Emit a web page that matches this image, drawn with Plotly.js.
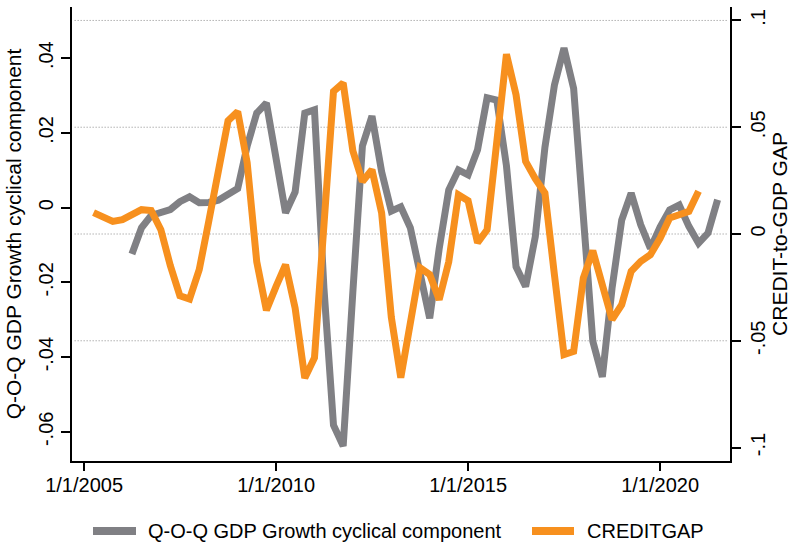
<!DOCTYPE html>
<html>
<head>
<meta charset="utf-8">
<script src="https://cdn.plot.ly/plotly-3.0.1.min.js"></script>
<style>html,body{margin:0;padding:0;background:#fff;}#chart{width:791px;height:542px;}</style>
</head>
<body>
<div id="chart"></div>
<script>
// Quarterly dates, 2005Q2 .. 2021Q3
var quarterDates = [
  "2005-04-01","2005-07-01","2005-10-01",
  "2006-01-01","2006-04-01","2006-07-01","2006-10-01",
  "2007-01-01","2007-04-01","2007-07-01","2007-10-01",
  "2008-01-01","2008-04-01","2008-07-01","2008-10-01",
  "2009-01-01","2009-04-01","2009-07-01","2009-10-01",
  "2010-01-01","2010-04-01","2010-07-01","2010-10-01",
  "2011-01-01","2011-04-01","2011-07-01","2011-10-01",
  "2012-01-01","2012-04-01","2012-07-01","2012-10-01",
  "2013-01-01","2013-04-01","2013-07-01","2013-10-01",
  "2014-01-01","2014-04-01","2014-07-01","2014-10-01",
  "2015-01-01","2015-04-01","2015-07-01","2015-10-01",
  "2016-01-01","2016-04-01","2016-07-01","2016-10-01",
  "2017-01-01","2017-04-01","2017-07-01","2017-10-01",
  "2018-01-01","2018-04-01","2018-07-01","2018-10-01",
  "2019-01-01","2019-04-01","2019-07-01","2019-10-01",
  "2020-01-01","2020-04-01","2020-07-01","2020-10-01",
  "2021-01-01","2021-04-01","2021-07-01"
];

// CREDITGAP (right axis), 2005Q2 .. 2021Q1
var creditGapDates = quarterDates.slice(0, 64);
var creditGap = [
  0.0100, 0.0078, 0.0059,
  0.0067, 0.0090, 0.0114, 0.0110,
  0.0020, -0.0148, -0.0289, -0.0305,
  -0.0167, 0.0060, 0.0310, 0.0530,
  0.0573, 0.0334, -0.0130, -0.0357,
  -0.0245, -0.0144, -0.0347, -0.0674,
  -0.0580, 0.0095, 0.0668, 0.0707,
  0.0390, 0.0246, 0.0301, 0.0098,
  -0.0390, -0.0673, -0.0415, -0.0158,
  -0.0190, -0.0308, -0.0130, 0.0184,
  0.0156, -0.0041, 0.0020, 0.0414,
  0.0842, 0.0652, 0.0340, 0.0259,
  0.0192, -0.0190, -0.0565, -0.0550,
  -0.0206, -0.0078, -0.0237, -0.0401,
  -0.0331, -0.0175, -0.0128, -0.0097,
  -0.0020, 0.0075, 0.0090, 0.0106,
  0.0200
];

// Q-O-Q GDP growth cyclical component (left axis), 2006Q2 .. 2021Q3
var gdpDates = quarterDates.slice(4, 66);
var gdpCycle = [
  -0.0124, -0.0054, -0.0021,
  -0.0011, -0.0005, 0.0016, 0.0029,
  0.0013, 0.0014, 0.0020, 0.0034,
  0.0051, 0.0165, 0.0253, 0.0280,
  0.0117, -0.0014, 0.0042, 0.0253,
  0.0262, -0.0215, -0.0582, -0.0638,
  -0.0226, 0.0165, 0.0245, 0.0096,
  -0.0009, 0.0002, -0.0054, -0.0167,
  -0.0296, -0.0110, 0.0047, 0.0101,
  0.0088, 0.0155, 0.0294, 0.0288,
  0.0112, -0.0158, -0.0211, -0.0078,
  0.0162, 0.0328, 0.0427, 0.0319,
  -0.0014, -0.0357, -0.0453, -0.0216,
  -0.0033, 0.0039, -0.0046, -0.0109,
  -0.0052, -0.0006, 0.0007, -0.0050,
  -0.0095, -0.0068, 0.0021
];

var xTickVals = ["2005-01-01", "2010-01-01", "2015-01-01", "2020-01-01"];
var xTickText = ["1/1/2005", "1/1/2010", "1/1/2015", "1/1/2020"];
var yTickVals = [-0.06, -0.04, -0.02, 0, 0.02, 0.04];
var yTickText = ["-.06", "-.04", "-.02", "0", ".02", ".04"];
var y2TickVals = [-0.1, -0.05, 0, 0.05, 0.1];
var y2TickText = ["-.1", "-.05", "0", ".05", ".1"];
var gridVals = [-0.05, 0, 0.05, 0.1];

var seriesNames = ["Q-O-Q GDP Growth cyclical component", "CREDITGAP"];
var seriesColors = ["#808084", "#f7901e"];

var FONT = "Liberation Sans, Arial, Helvetica, sans-serif";

var traces = [
  {
    x: gdpDates, y: gdpCycle, type: "scatter", mode: "lines",
    name: seriesNames[0], yaxis: "y",
    line: {color: seriesColors[0], width: 7, shape: "linear"},
    showlegend: false, hoverinfo: "x+y"
  },
  {
    x: creditGapDates, y: creditGap, type: "scatter", mode: "lines",
    name: seriesNames[1], yaxis: "y2",
    line: {color: seriesColors[1], width: 7, shape: "linear"},
    showlegend: false, hoverinfo: "x+y"
  }
];

var shapes = gridVals.map(function (v) {
  return {type: "line", xref: "paper", yref: "y2", x0: 0.004, x1: 0.996, y0: v, y1: v,
          line: {color: "#8c8c8c", width: 1, dash: "1px,2px"}, layer: "below"};
});

// manual legend
var legY = -0.154;
shapes.push({type: "line", xref: "paper", yref: "paper", x0: (93 - 72) / 658, x1: (136 - 72) / 658,
             y0: legY, y1: legY, line: {color: seriesColors[0], width: 8}});
shapes.push({type: "line", xref: "paper", yref: "paper", x0: (532 - 72) / 658, x1: (574 - 72) / 658,
             y0: legY, y1: legY, line: {color: seriesColors[1], width: 8}});

var annotations = [
  {xref: "paper", yref: "paper", x: (146 - 72) / 658, y: legY, xanchor: "left", yanchor: "middle",
   text: seriesNames[0], showarrow: false, font: {family: FONT, size: 20, color: "#000"}},
  {xref: "paper", yref: "paper", x: (585 - 72) / 658, y: legY, xanchor: "left", yanchor: "middle",
   text: seriesNames[1], showarrow: false, font: {family: FONT, size: 20, color: "#000"}}
];

var layout = {
  width: 791, height: 542,
  margin: {l: 72, r: 61, t: 7, b: 81, pad: 0},
  paper_bgcolor: "#ffffff", plot_bgcolor: "#ffffff",
  font: {family: FONT, size: 20, color: "#000"},
  showlegend: false,
  xaxis: {
    type: "date", range: ["2004-09-08", "2021-10-27"],
    tickvals: xTickVals, ticktext: xTickText,
    ticks: "outside", ticklen: 8, tickwidth: 2, tickcolor: "#000",
    ticklabelstandoff: -3,
    showline: true, linewidth: 2, linecolor: "#000",
    showgrid: false, zeroline: false,
    tickfont: {family: FONT, size: 20, color: "#000"}
  },
  yaxis: {
    range: [-0.0678, 0.0537],
    tickvals: yTickVals, ticktext: yTickText, tickangle: -90,
    ticks: "outside", ticklen: 9, tickwidth: 2, tickcolor: "#000",
    showline: true, linewidth: 2, linecolor: "#000",
    showgrid: false, zeroline: false,
    tickfont: {family: FONT, size: 20, color: "#000"},
    title: {text: "Q-O-Q GDP Growth cyclical component", font: {family: FONT, size: 21, color: "#000"}, standoff: 8}
  },
  yaxis2: {
    overlaying: "y", side: "right",
    range: [-0.1063, 0.1063],
    tickvals: y2TickVals, ticktext: y2TickText, tickangle: -90,
    ticks: "outside", ticklen: 9, tickwidth: 2, tickcolor: "#000",
    showline: true, linewidth: 2, linecolor: "#000",
    showgrid: false, zeroline: false,
    tickfont: {family: FONT, size: 20, color: "#000"},
    title: {text: "CREDIT-to-GDP GAP", font: {family: FONT, size: 21, color: "#000"}, standoff: 8}
  },
  shapes: shapes,
  annotations: annotations
};

Plotly.newPlot("chart", traces, layout, {displayModeBar: false, staticPlot: true});
</script>
</body>
</html>
